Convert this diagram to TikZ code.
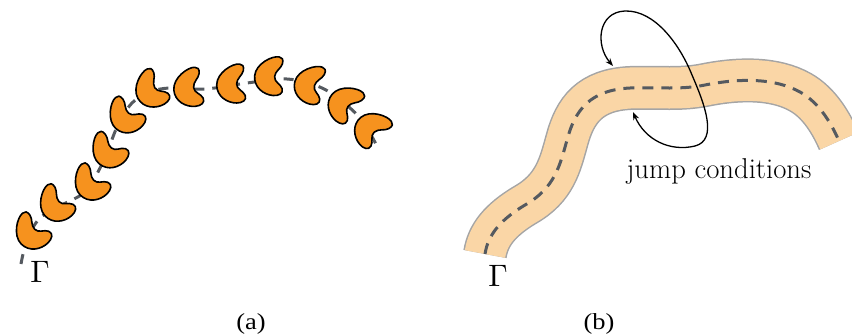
\documentclass[tikz,border=0pt]{standalone}
\usepackage{fontspec}
\newfontfamily\capfont{Liberation Serif}
\usetikzlibrary{arrows.meta}
\definecolor{beanorange}{RGB}{246,146,30}
\definecolor{dashgray}{RGB}{85,90,96}
\definecolor{bandfill}{RGB}{250,214,166}
\definecolor{bandedge}{RGB}{165,165,165}
\tikzset{
  beanstyle/.style={fill=beanorange, draw=black, line width=1.6pt, line join=round},
  bean/.pic={
    \draw[beanstyle] (10,-21) .. controls (3,-22) and (-14,-12) .. (-14,1)
      .. controls (-14,13) and (-3,20) .. (7,20)
      .. controls (13,20) and (18,17) .. (16,12)
      .. controls (14,7) and (7,6) .. (7,0)
      .. controls (7,-6) and (13,-9) .. (14,-14)
      .. controls (15,-19) and (13,-21) .. (10,-21) -- cycle;
  },
  gammadash/.style={dashgray, line width=3pt, dash pattern=on 10pt off 8pt},
  jumparrow/.style={black, line width=1.3pt, {Stealth[length=8pt,width=6pt]}-{Stealth[length=8pt,width=6pt]}},
  lbl/.style={inner sep=0pt, anchor=base},
}
\begin{document}
\begin{tikzpicture}[x=1pt, y=-1pt]
\useasboundingbox (0,0) rectangle (852,335);
\clip (0,0) rectangle (852,335);

% ---------- (a) ----------
\draw[gammadash] plot[smooth, tension=0.6] coordinates {
  (21,264) (27,240) (40,218) (62,205) (85,192) (98,172) (108,150) (118,125)
  (132,103) (150,92) (170,88) (205,89) (247,83) (287,79) (322,88) (350,108)
  (365,125) (378,148)};

\pic[rotate=45, scale=0.95] at (30,234) {bean};
\pic[rotate=42, scale=0.95] at (54,206) {bean};
\pic[rotate=45, scale=0.95] at (89,185) {bean};
\pic[rotate=50, scale=0.95] at (107,153) {bean};
\pic[rotate=48, scale=0.95] at (124,118) {bean};
\pic[rotate=30, scale=0.95] at (149,91) {bean};
\pic[rotate=5, scale=0.95] at (187,88) {bean};
\pic[rotate=0, scale=0.95] at (230,84) {bean};
\pic[rotate=-5, scale=0.95] at (268,76) {bean};
\pic[rotate=-15, scale=0.95] at (308,84) {bean};
\pic[rotate=-40, scale=0.95] at (343,102) {bean};
\pic[rotate=-50, scale=0.95] at (370,127) {bean};

\node[lbl] (gammaA) at (40,282) {\scalebox{3.1}{$\Gamma$}};
\node[lbl] (capA) at (251,329) {\capfont\fontsize{23}{26}\selectfont\scalebox{1.15}[1]{(a)}};

% ---------- (b) ----------
\def\bandpath{(485,254) .. controls (488,235) and (500,220) .. (525,205)
  .. controls (555,188) and (560,165) .. (567,140)
  .. controls (575,110) and (590,90) .. (630,88)
  .. controls (660,87) and (680,90) .. (705,85)
  .. controls (740,78) and (775,78) .. (800,92)
  .. controls (820,103) and (832,125) .. (839,141)}
\draw[bandedge, line width=44pt] \bandpath;
\draw[bandfill, line width=41pt] \bandpath;
\draw[dashgray, line width=3pt, dash pattern=on 11pt off 8pt] \bandpath;

\coordinate (tipUp) at (613,66);
\coordinate (tipDown) at (633,112);
\draw[jumparrow] (tipUp) .. controls (595,45) and (598,12) .. (625,11)
  .. controls (655,10) and (680,45) .. (692,75)
  .. controls (705,105) and (718,140) .. (695,146)
  .. controls (670,152) and (645,140) .. (tipDown);

\node[lbl] (jump) at (719,178) {\fontsize{28.7}{34}\selectfont jump conditions};
\node[lbl] (gammaB) at (498,286) {\scalebox{3.1}{$\Gamma$}};
\node[lbl] (capB) at (599,329) {\capfont\fontsize{23}{26}\selectfont\scalebox{1.15}[1]{(b)}};
\end{tikzpicture}
\end{document}
